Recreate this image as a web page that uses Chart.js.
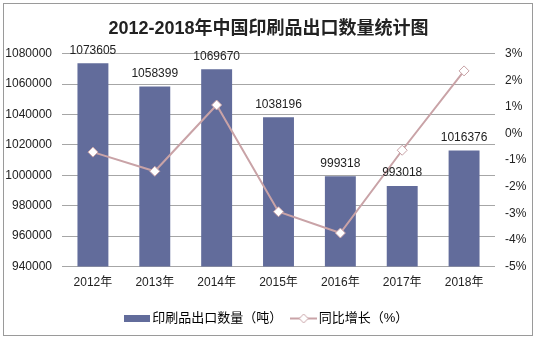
<!DOCTYPE html>
<html>
<head>
<meta charset="utf-8">
<script src="https://cdn.jsdelivr.net/npm/chart.js@4/dist/chart.umd.min.js"></script>
<style>
  html, body { margin: 0; padding: 0; background: #fff; }
  #wrap { width: 537px; height: 341px; }
</style>
</head>
<body>
<div id="wrap"><canvas id="c" width="537" height="341"></canvas></div>
<script>
// Printed matter exports, 2012-2018
const years = ['2012年', '2013年', '2014年', '2015年', '2016年', '2017年', '2018年'];
const exportTons = [1073605, 1058399, 1069670, 1038196, 999318, 993018, 1016376];
const yoyGrowth = [-0.7, -1.42, 1.07, -2.94, -3.74, -0.63, 2.35];
const leftTicks = [940000, 960000, 980000, 1000000, 1020000, 1040000, 1060000, 1080000];
const rightTicks = [-5, -4, -3, -2, -1, 0, 1, 2, 3];

const FONT = '"Liberation Sans", Arial, "Noto Sans CJK SC", sans-serif';
const BAR_COLOR = '#626c9b';
const LINE_COLOR = '#c9a3a7';

// legend swatches
function barSwatch() {
  const c = document.createElement('canvas');
  c.width = 26; c.height = 7;
  const g = c.getContext('2d');
  g.fillStyle = BAR_COLOR; g.fillRect(0, 0, 26, 7);
  return c;
}
function lineSwatch() {
  const c = document.createElement('canvas');
  c.width = 27; c.height = 11;
  const g = c.getContext('2d');
  g.strokeStyle = LINE_COLOR; g.lineWidth = 2;
  g.beginPath(); g.moveTo(0, 5.5); g.lineTo(27, 5.5); g.stroke();
  g.fillStyle = '#fff'; g.lineWidth = 1;
  g.beginPath(); g.moveTo(13.5, 1); g.lineTo(18, 5.5); g.lineTo(13.5, 10); g.lineTo(9, 5.5); g.closePath();
  g.fill(); g.stroke();
  return c;
}

const framePlugin = {
  id: 'frame',
  beforeDraw(chart) {
    const ctx = chart.ctx;
    ctx.save();
    ctx.fillStyle = '#fff';
    ctx.fillRect(0, 0, chart.width, chart.height);
    ctx.strokeStyle = '#9a9a9a';
    ctx.lineWidth = 1;
    ctx.strokeRect(3.5, 3.5, 529, 332);
    ctx.restore();
  }
};

const barLabelPlugin = {
  id: 'barLabels',
  afterDatasetsDraw(chart) {
    const meta = chart.getDatasetMeta(0);
    const ctx = chart.ctx;
    ctx.save();
    ctx.font = '12px ' + FONT;
    ctx.fillStyle = '#222';
    ctx.textAlign = 'center';
    ctx.textBaseline = 'middle';
    meta.data.forEach((el, i) => {
      ctx.fillText(String(exportTons[i]), el.x, el.y - 13);
    });
    ctx.restore();
  }
};

new Chart(document.getElementById('c'), {
  data: {
    labels: years,
    datasets: [
      {
        type: 'bar',
        label: '印刷品出口数量（吨）',
        data: exportTons,
        backgroundColor: BAR_COLOR,
        yAxisID: 'y',
        categoryPercentage: 1,
        barPercentage: 0.5,
        order: 2
      },
      {
        type: 'line',
        label: '同比增长（%）',
        data: yoyGrowth,
        borderColor: LINE_COLOR,
        borderWidth: 2,
        pointStyle: 'rectRot',
        pointRadius: 5,
        pointBackgroundColor: '#fff',
        pointBorderColor: LINE_COLOR,
        pointBorderWidth: 1,
        tension: 0,
        yAxisID: 'y1',
        order: 1
      }
    ]
  },
  options: {
    responsive: false,
    animation: false,
    devicePixelRatio: 1,
    layout: { padding: { left: 4, right: 4, top: 0, bottom: 6 } },
    plugins: {
      title: {
        display: true,
        text: '2012-2018年中国印刷品出口数量统计图',
        color: '#222',
        font: { family: FONT, size: 18, weight: 'bold' },
        padding: { top: 18, bottom: 14 }
      },
      legend: {
        position: 'bottom',
        labels: {
          usePointStyle: true,
          pointStyleWidth: 17,
          color: '#222',
          font: { family: FONT, size: 13 },
          padding: 13,
          generateLabels() {
            return [
              { text: '印刷品出口数量（吨）', pointStyle: barSwatch(), fillStyle: BAR_COLOR, strokeStyle: BAR_COLOR, lineWidth: 0, datasetIndex: 0 },
              { text: '同比增长（%）', pointStyle: lineSwatch(), fillStyle: LINE_COLOR, strokeStyle: LINE_COLOR, lineWidth: 0, datasetIndex: 1 }
            ];
          }
        }
      },
      tooltip: { enabled: false }
    },
    scales: {
      x: {
        grid: { display: false, drawTicks: false },
        border: { display: false },
        ticks: { color: '#222', font: { family: FONT, size: 12 }, padding: 9, maxRotation: 0 }
      },
      y: {
        position: 'left',
        min: 940000,
        max: 1080000,
        afterBuildTicks(s) { s.ticks = leftTicks.map(v => ({ value: v })); },
        afterFit(s) { s.width = 58; },
        grid: { color: '#a6a6a6', drawTicks: false },
        border: { display: false },
        ticks: { color: '#222', font: { family: FONT, size: 12 }, padding: 10, callback: v => String(v) }
      },
      y1: {
        position: 'right',
        min: -5,
        max: 3,
        afterBuildTicks(s) { s.ticks = rightTicks.map(v => ({ value: v })); },
        afterFit(s) { s.width = 38; },
        grid: { display: false, drawTicks: false },
        border: { display: false },
        ticks: { color: '#222', font: { family: FONT, size: 12 }, padding: 10, callback: v => v + '%' }
      }
    }
  },
  plugins: [framePlugin, barLabelPlugin]
});
</script>
</body>
</html>
